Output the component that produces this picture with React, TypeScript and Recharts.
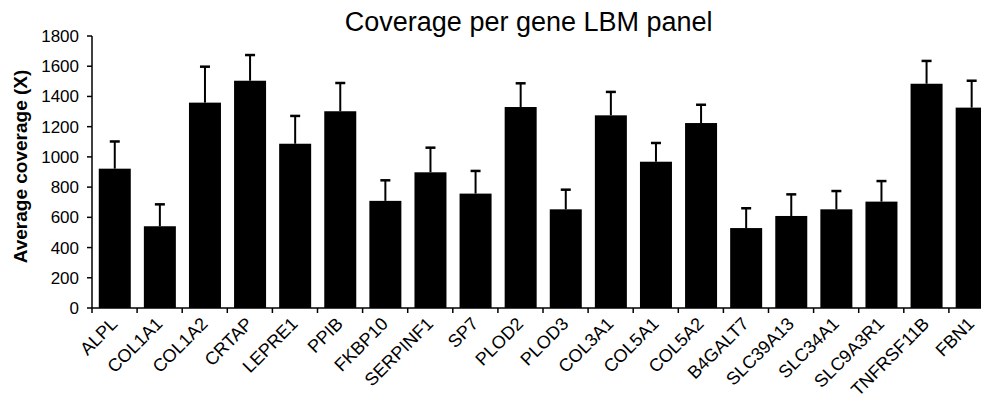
import React from 'react';
import { BarChart, Bar, XAxis, YAxis } from 'recharts';

const genes = ['ALPL', 'COL1A1', 'COL1A2', 'CRTAP', 'LEPRE1', 'PPIB', 'FKBP10', 'SERPINF1', 'SP7', 'PLOD2', 'PLOD3', 'COL3A1', 'COL5A1', 'COL5A2', 'B4GALT7', 'SLC39A13', 'SLC34A1', 'SLC9A3R1', 'TNFRSF11B', 'FBN1'];
const meanCoverage = [922, 541, 1359, 1504, 1087, 1302, 709, 898, 757, 1330, 653, 1275, 968, 1224, 529, 609, 653, 704, 1484, 1326];
const sdCoverage = [180, 145, 238, 170, 184, 187, 136, 163, 150, 157, 130, 155, 124, 121, 131, 143, 121, 136, 151, 178];
const yTicks = [0, 200, 400, 600, 800, 1000, 1200, 1400, 1600, 1800];

const data = genes.map((g, i) => ({ gene: g, mean: meanCoverage[i], sd: sdCoverage[i] }));

const FONT = '"Liberation Sans", Arial, Helvetica, sans-serif';

const XTick = (props: any) => {
  const { x, y, payload } = props;
  const off = payload && payload.offset ? payload.offset : 0;
  const lx = x + 4;
  const ly = y + 17;
  return (
    <g>
      <line x1={x - off} y1={y} x2={x - off} y2={y + 5} stroke="#000" strokeWidth={1.5} />
      <text
        x={lx}
        y={ly}
        transform={`rotate(-45 ${lx} ${ly})`}
        textAnchor="end"
        fontSize={18}
        fontFamily={FONT}
        fill="#000"
      >
        {payload.value}
      </text>
    </g>
  );
};

const BarWithError = (props: any) => {
  const { x, y, width, height, payload } = props;
  const value = payload.mean;
  const pxPerUnit = value ? height / value : 0;
  const errPx = payload.sd * pxPerUnit;
  const cx = x + width / 2;
  const top = y - errPx;
  return (
    <g>
      <rect x={x} y={y} width={width} height={height} fill="#000" />
      <line x1={cx} y1={y} x2={cx} y2={top} stroke="#000" strokeWidth={2} />
      <line x1={cx - 5} y1={top} x2={cx + 5} y2={top} stroke="#000" strokeWidth={2.5} />
    </g>
  );
};

const YLabel = (props: any) => {
  const vb = props.viewBox || { x: 0, y: 28, width: 84, height: 272 };
  const cx = 18.5;
  const cy = vb.y + vb.height / 2 - 5.5;
  return (
    <text
      x={cx}
      y={cy}
      transform={`rotate(-90 ${cx} ${cy})`}
      textAnchor="middle"
      fontSize={19}
      fontWeight="bold"
      fontFamily={FONT}
      fill="#000"
    >
      Average coverage (X)
    </text>
  );
};

export default function App() {
  return (
    <div style={{ position: 'relative', width: 986, height: 396, fontFamily: FONT, background: '#fff' }}>
      <div
        style={{
          position: 'absolute',
          left: 520.7,
          top: 1,
          transform: 'translateX(-50%)',
          whiteSpace: 'nowrap',
          fontSize: 27,
          lineHeight: '27px',
          fontFamily: FONT,
          color: '#000',
        }}
      >
        Coverage per gene LBM panel
      </div>
      <BarChart
        width={986}
        height={396}
        data={data}
        margin={{ top: 28, right: 0, left: 0, bottom: 0 }}
        barCategoryGap="15%"
      >
        <XAxis
          dataKey="gene"
          interval={0}
          height={96}
          tickLine={false}
          tickSize={0}
          tickMargin={0}
          axisLine={{ stroke: '#000', strokeWidth: 1.5 }}
          tick={<XTick />}
        />
        <YAxis
          width={84}
          domain={[0, 1800]}
          ticks={yTicks}
          interval={0}
          tickSize={5}
          tickMargin={8}
          axisLine={{ stroke: '#000', strokeWidth: 1.5 }}
          tickLine={{ stroke: '#000', strokeWidth: 1.5 }}
          tick={{ fill: '#000', fontSize: 17, fontFamily: FONT }}
          label={<YLabel />}
        />
        <Bar dataKey="mean" fill="#000" isAnimationActive={false} shape={<BarWithError />} />
      </BarChart>
    </div>
  );
}
